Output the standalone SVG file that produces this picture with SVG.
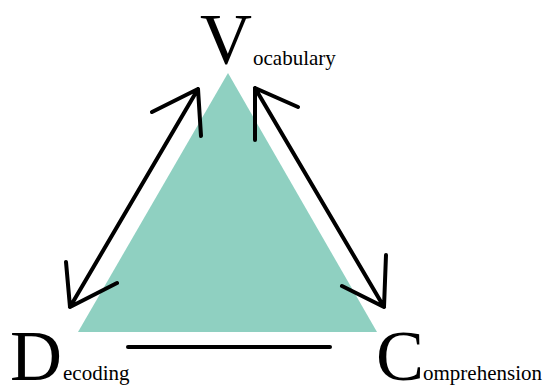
<svg xmlns="http://www.w3.org/2000/svg" width="547" height="385" viewBox="0 0 547 385">
<style>
.big{font-family:"Liberation Serif",serif;font-size:72px;fill:#000}
.small{font-family:"Liberation Serif",serif;font-size:21px;fill:#000}
.ln{stroke:#000;stroke-width:4;fill:none;stroke-linecap:round;stroke-linejoin:round}
</style>
<rect width="547" height="385" fill="#fff"/>
<g id="triangle">
<polygon points="228,73 78,332 377,332" fill="#8fd0c1"/>
</g>
<g id="vocabulary">
<text class="big" x="200" y="63">V</text>
<text class="small" x="253" y="65">ocabulary</text>
</g>
<g id="decoding">
<text class="big" x="10" y="380">D</text>
<text class="small" x="63" y="380">ecoding</text>
</g>
<g id="comprehension">
<text class="big" x="376" y="380">C</text>
<text class="small" x="423" y="380">omprehension</text>
</g>
<g id="connectors">
<path class="ln" d="M198,89 L70,307 M152,112 L198,89 L201,136 M66,262 L70,307 L117,283"/>
<path class="ln" d="M255,88 L384,307 M255,140 L255,88 L298,107 M386,255 L384,307 L342,286"/>
<path class="ln" d="M128,347 L330,347"/>
</g>
</svg>
